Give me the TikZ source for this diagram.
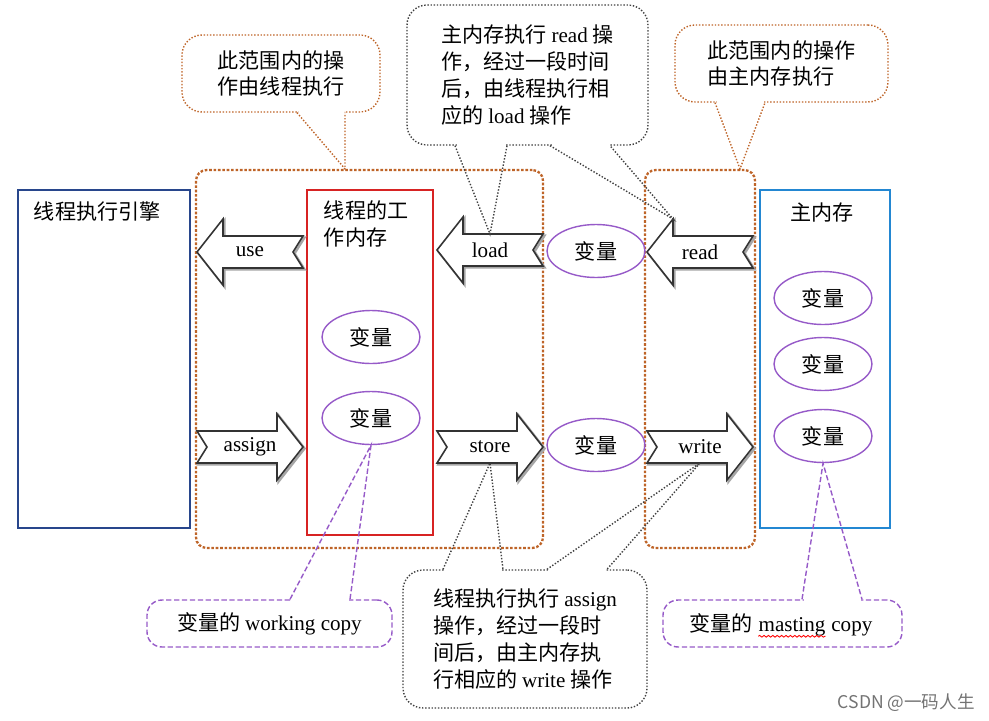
\documentclass[tikz,border=0pt]{standalone}
\usepackage{fontspec}
\setmainfont{Noto Sans CJK SC}
\newfontfamily\en{Liberation Serif}
\usetikzlibrary{shapes.geometric,positioning,calc,decorations.pathmorphing}

\definecolor{zoneclr}{RGB}{190,100,40}
\definecolor{engclr}{RGB}{40,70,140}
\definecolor{wmclr}{RGB}{215,35,35}
\definecolor{mmclr}{RGB}{35,135,210}
\definecolor{varclr}{RGB}{150,90,200}

\tikzset{
  txt/.style={font=\fontsize{12}{15.3}\selectfont, inner sep=0pt},
  entxt/.style={font=\en\fontsize{12}{14}\selectfont, inner sep=0pt},
  zone/.style={draw=zoneclr, line width=1.3pt, dash pattern=on 1.5pt off 1pt, rounded corners=6pt},
  membox/.style={draw=#1, line width=1.6pt},
  varell/.style={ellipse, draw=varclr, line width=0.8pt, minimum width=1.96cm, minimum height=1.06cm, txt},
  tipbox/.style={draw=#1, line width=0.8pt, densely dotted, rounded corners=0.4cm, txt, align=left},
  tipline/.style={draw=#1, line width=0.8pt, densely dotted},
  copybox/.style={draw=varclr, line width=0.8pt, dash pattern=on 3pt off 1.5pt, rounded corners=0.3cm, txt},
  copyline/.style={draw=varclr, line width=0.8pt, dash pattern=on 3pt off 1.5pt},
  blkline/.style={draw=black!80, line width=0.9pt, fill=white},
  blkshadow/.style={draw=black!35, line width=1.4pt},
  pics/lblk/.style={code={
    \draw[blkshadow, shift={(1.5,1.5)}] (-53,0) -- (-27,-33) -- (-27,-16) -- (53,-16) -- (43,0) -- (53,16) -- (-27,16) -- (-27,33) -- cycle;
    \draw[blkline] (-53,0) -- (-27,-33) -- (-27,-16) -- (53,-16) -- (43,0) -- (53,16) -- (-27,16) -- (-27,33) -- cycle;
    \node[entxt] (-lbl) at (0,0) {#1};
    \coordinate (-top) at (0,-16);
    \coordinate (-bot) at (0,16);
    \coordinate (-htop) at (-27,-33);
  }},
  pics/rblk/.style={code={
    \draw[blkshadow, shift={(1.5,1.5)}] (53,0) -- (27,-33) -- (27,-16) -- (-53,-16) -- (-43,0) -- (-53,16) -- (27,16) -- (27,33) -- cycle;
    \draw[blkline] (53,0) -- (27,-33) -- (27,-16) -- (-53,-16) -- (-43,0) -- (-53,16) -- (27,16) -- (27,33) -- cycle;
    \node[entxt] (-lbl) at (0,0) {#1};
    \coordinate (-top) at (0,-16);
    \coordinate (-bot) at (0,16);
  }}
}

\begin{document}
\begin{tikzpicture}[x=0.02cm, y=-0.02cm]
\useasboundingbox (0,0) rectangle (989,720);

% zones
\node[zone, minimum width=6.94cm, minimum height=7.56cm] (zone1) at (369.5,359) {};
\node[zone, minimum width=2.2cm, minimum height=7.56cm] (zone2) at (700,359) {};

% boxes
\node[membox=engclr, minimum width=3.44cm, minimum height=6.76cm] (engine) at (104,359) {};
\node[txt, anchor=base west] (englbl) at ($(engine.north west)+(17,31)$) {线程执行引擎};

\node[membox=wmclr, minimum width=2.52cm, minimum height=6.9cm] (wm) at (370,362.5) {};
\node[txt, anchor=north west, align=left] (wmlbl) at ($(wm.north west)+(18,12)$) {线程的工\\作内存};

\node[membox=mmclr, minimum width=2.6cm, minimum height=6.76cm] (mm) at (825,359) {};
\node[txt, anchor=north] (mmlbl) at ($(mm.north)+(-3,14)$) {主内存};

% block arrows
\pic (usearr) at (250,252) {lblk=use};
\pic (assignarr) at (250,447) {rblk=assign};
\pic (loadarr) at (490,250) {lblk=load};
\pic (storearr) at (490,447) {rblk=store};
\pic (readarr) at (700,252) {lblk=read};
\pic (writearr) at (700,447) {rblk=write};

% variables
\node[varell] (wvar1) at (371,337) {变量};
\node[varell] (wvar2) at (371,418) {变量};
\node[varell] (tvar1) at (596,251) {变量};
\node[varell] (tvar2) at (596,445) {变量};
\node[varell] (mvar1) at (823,298) {变量};
\node[varell] (mvar2) at (823,364) {变量};
\node[varell] (mvar3) at (823,436) {变量};

% callouts top
\node[tipbox=zoneclr, minimum width=3.96cm, minimum height=1.54cm] (hint1) at (281,73.5) {此范围内的操\\作由线程执行};
\fill[white] ($(hint1.south)+(17.5,-3)$) rectangle ($(hint1.south)+(62.5,3)$);
\draw[tipline=zoneclr] ($(hint1.south)+(16,0)$) -- ($(zone1.north)+(-24.5,0)$) -- ($(hint1.south)+(64,0)$);

\node[tipbox=black!75, minimum width=4.82cm, minimum height=2.8cm] (hint2) at (527.5,75) {主内存执行 {\en read} 操\\作，经过一段时间\\后，由线程执行相\\应的 {\en load} 操作};
\fill[white] ($(hint2.south)+(-71,-3)$) rectangle ($(hint2.south)+(-22,3)$);
\fill[white] ($(hint2.south)+(24,-3)$) rectangle ($(hint2.south)+(81,3)$);
\draw[tipline=black!75] ($(hint2.south)+(-72.5,0)$) -- (loadarr-top) -- ($(hint2.south)+(-20.5,0)$);
\draw[tipline=black!75] ($(hint2.south)+(22.5,0)$) -- (readarr-htop) -- ($(hint2.south)+(82.5,0)$);

\node[tipbox=zoneclr, minimum width=4.26cm, minimum height=1.54cm] (hint3) at (781.5,63.5) {此范围内的操作\\由主内存执行};
\fill[white] ($(hint3.south)+(-65,-3)$) rectangle ($(hint3.south)+(-18,3)$);
\draw[tipline=zoneclr] ($(hint3.south)+(-66.5,0)$) -- ($(zone2.north)+(40,0)$) -- ($(hint3.south)+(-16.5,0)$);

% callouts bottom
\node[tipbox=black!75, minimum width=4.88cm, minimum height=2.76cm] (hint4) at (525,639) {线程执行执行 {\en assign}\\操作，经过一段时\\间后，由主内存执\\行相应的 {\en write} 操作};
\fill[white] ($(hint4.north)+(-80.5,-3)$) rectangle ($(hint4.north)+(-23.5,3)$);
\fill[white] ($(hint4.north)+(23.5,-3)$) rectangle ($(hint4.north)+(80.5,3)$);
\draw[tipline=black!75] ($(hint4.north)+(-82,0)$) -- (storearr-bot) -- ($(hint4.north)+(-22,0)$);
\draw[tipline=black!75] ($(hint4.north)+(22,0)$) -- (writearr-bot) -- ($(hint4.north)+(82,0)$);

\node[copybox, minimum width=4.9cm, minimum height=0.94cm] (hint5) at (269.5,623.5) {变量的 {\en working copy}};
\fill[white] ($(hint5.north)+(22,-3)$) rectangle ($(hint5.north)+(79,3)$);
\draw[copyline] ($(hint5.north)+(20.5,0)$) -- (wvar2.south) -- ($(hint5.north)+(80.5,0)$);

\node[copybox, minimum width=4.78cm, minimum height=0.94cm] (hint6) at (782.5,623.5) {};
\node[entxt, anchor=base] (hint6b) at (792,631) {masting};
\node[txt, base left=3pt of hint6b] (hint6a) {变量的};
\node[entxt, base right=3pt of hint6b] (hint6c) {copy};
\draw[red, line width=0.5pt, decorate, decoration={snake, amplitude=0.5pt, segment length=2.5pt}] ([yshift=-3pt]hint6b.base west) -- ([yshift=-3pt]hint6b.base east);
\fill[white] ($(hint6.north)+(21,-3)$) rectangle ($(hint6.north)+(78,3)$);
\draw[copyline] ($(hint6.north)+(19.5,0)$) -- (mvar3.south) -- ($(hint6.north)+(79.5,0)$);

% watermark
\node[font=\fontsize{10}{12}\selectfont, text=black!55, anchor=east, inner sep=0pt] (mark) at (975,703) {CSDN @一码人生};
\end{tikzpicture}
\end{document}
